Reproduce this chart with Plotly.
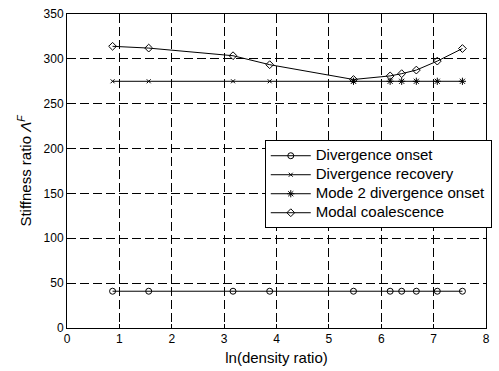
import plotly.graph_objects as go

x_all = [0.87, 1.56, 3.17, 3.87, 5.47, 6.17, 6.39, 6.67, 7.07, 7.55]
div_onset = [41, 41, 41, 41, 41, 41, 41, 41, 41, 41]
x_recovery = [0.87, 1.56, 3.17, 3.87, 5.47]
div_recovery = [275, 275, 275, 275, 275]
x_mode2 = [5.47, 6.17, 6.39, 6.67, 7.07, 7.55]
mode2_onset = [275, 275, 275, 275, 275, 275]
modal_coal = [314, 312, 303.5, 293.5, 277, 281, 283.5, 287.5, 297.5, 311.5]
series_names = ["Divergence onset", "Divergence recovery", "Mode 2 divergence onset", "Modal coalescence"]

x_ticks = [0, 1, 2, 3, 4, 5, 6, 7, 8]
y_ticks = [0, 50, 100, 150, 200, 250, 300, 350]


def lg(name):
    return '<span style="font-size:15px">' + name + '</span>'


fig = go.Figure()
line = dict(color="black", width=1)
fig.add_trace(go.Scatter(x=x_all, y=div_onset, mode="lines+markers", name=lg(series_names[0]),
                         line=line, marker=dict(symbol="circle-open", size=6, color="black", line=dict(width=1))))
fig.add_trace(go.Scatter(x=x_recovery, y=div_recovery, mode="lines+markers", name=lg(series_names[1]),
                         line=line, marker=dict(symbol="x-thin-open", size=4, color="black", line=dict(width=1))))
fig.add_trace(go.Scatter(x=x_mode2, y=mode2_onset, mode="lines+markers", name=lg(series_names[2]),
                         line=line, marker=dict(symbol="asterisk-open", size=6, color="black", line=dict(width=1))))
fig.add_trace(go.Scatter(x=x_all, y=modal_coal, mode="lines+markers", name=lg(series_names[3]),
                         line=line, marker=dict(symbol="diamond-open", size=6, color="black", line=dict(width=1))))

axis_common = dict(showline=True, linecolor="black", linewidth=1, mirror=True,
                   ticks="inside", ticklen=4, tickcolor="black",
                   showgrid=True, gridcolor="black", gridwidth=1, griddash="9px,4px",
                   zeroline=False, tickfont=dict(size=12, color="black"))

fig.update_layout(
    width=499, height=371,
    margin=dict(l=67, r=7, t=9, b=42),
    paper_bgcolor="white", plot_bgcolor="white",
    font=dict(family="Liberation Sans, Arial, sans-serif", size=12, color="black"),
    xaxis=dict(range=[0, 8], tickvals=x_ticks, title=dict(text="ln(density ratio)", standoff=7, font=dict(size=15)), **axis_common),
    yaxis=dict(range=[0, 350], tickvals=y_ticks, title=dict(text="Stiffness ratio <i>Λ</i><sup><i>F</i></sup>", standoff=8, font=dict(size=15)), **axis_common),
    legend=dict(x=0.472, y=0.598, xanchor="left", yanchor="top", bgcolor="white",
                bordercolor="black", borderwidth=1, font=dict(size=11), itemwidth=40,
                tracegroupgap=0),
    showlegend=True,
)

fig.write_html("out.html")
